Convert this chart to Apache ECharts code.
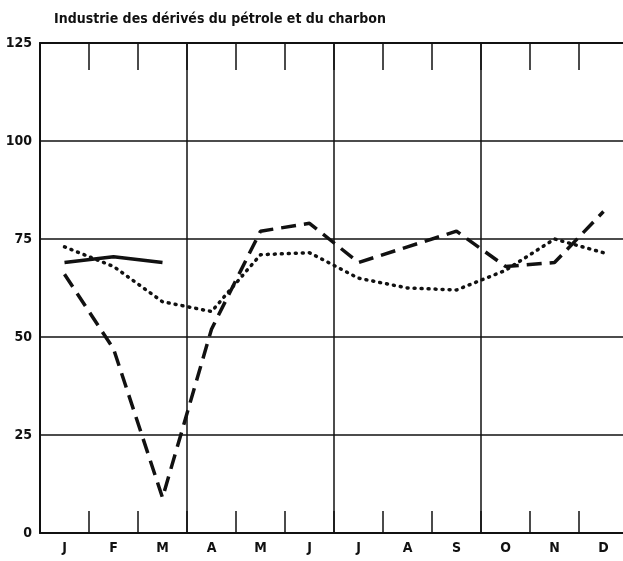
<!DOCTYPE html>
<html>
<head>
<meta charset="utf-8">
<script src="https://cdn.jsdelivr.net/npm/echarts@6/dist/echarts.min.js"></script>
<style>
  html, body { margin: 0; padding: 0; background: #fff; }
  #chart { width: 623px; height: 561px; }
</style>
</head>
<body>
<div id="chart"></div>
<script>
const months = ['J', 'F', 'M', 'A', 'M', 'J', 'J', 'A', 'S', 'O', 'N', 'D']
// trait plein (début d'année seulement)
const solidValues = [69, 70.5, 69, null, null, null, null, null, null, null, null, null]
// tirets
const dashedValues = [66, 47, 9, 52, 77, 79, 69, 73, 77, 68, 69, 82]
// pointillés
const dottedValues = [73, 68, 59, 56.5, 71, 71.5, 65, 62.5, 62, 67, 75, 71.5]

const chart = echarts.init(document.getElementById('chart'))
const font = '"Liberation Sans Narrow", "DejaVu Sans Condensed", sans-serif'
const black = '#111'

const option = {
  animation: false,
  backgroundColor: '#fff',
  title: {
    text: 'Industrie des dérivés du pétrole et du charbon',
    left: 49,
    top: 7,
    textStyle: { fontFamily: font, fontSize: 14, fontWeight: 'bold', color: black }
  },
  grid: { left: 40, top: 43, width: 588, height: 490, outerBoundsMode: 'none', containLabel: false },
  xAxis: [
    {
      type: 'category',
      data: months,
      boundaryGap: true,
      axisLine: { show: true, lineStyle: { color: black, width: 2 } },
      axisTick: { show: true, inside: true, length: 22, interval: 0, lineStyle: { color: black, width: 1.5 } },
      axisLabel: { fontFamily: font, fontSize: 14, fontWeight: 'bold', color: black, margin: 8, interval: 0 },
      splitLine: {
        show: true,
        interval: (i) => i > 0 && i % 3 === 0,
        lineStyle: { color: black, width: 1.5 }
      }
    },
    {
      type: 'category',
      data: months,
      position: 'top',
      boundaryGap: true,
      axisLine: { show: true, lineStyle: { color: black, width: 2 } },
      axisTick: { show: true, inside: true, length: 27, interval: 0, lineStyle: { color: black, width: 1.5 } },
      axisLabel: { show: false }
    }
  ],
  yAxis: {
    type: 'value',
    min: 0,
    max: 125,
    interval: 25,
    axisLine: { show: true, lineStyle: { color: black, width: 2 } },
    axisTick: { show: false },
    axisLabel: { fontFamily: font, fontSize: 14, fontWeight: 'bold', color: black, margin: 8 },
    splitLine: { show: true, lineStyle: { color: black, width: 1.5 } }
  },
  series: [
    {
      name: 'plein',
      type: 'line',
      data: solidValues,
      symbol: 'none',
      connectNulls: false,
      lineStyle: { color: black, width: 3.5, type: 'solid' }
    },
    {
      name: 'tirets',
      type: 'line',
      data: dashedValues,
      symbol: 'none',
      lineStyle: { color: black, width: 3.5, type: [15, 8] }
    },
    {
      name: 'pointillés',
      type: 'line',
      data: dottedValues,
      symbol: 'none',
      lineStyle: { color: black, width: 3.5, type: [1, 6], cap: 'round' }
    }
  ]
}

chart.setOption(option)
</script>
</body>
</html>
